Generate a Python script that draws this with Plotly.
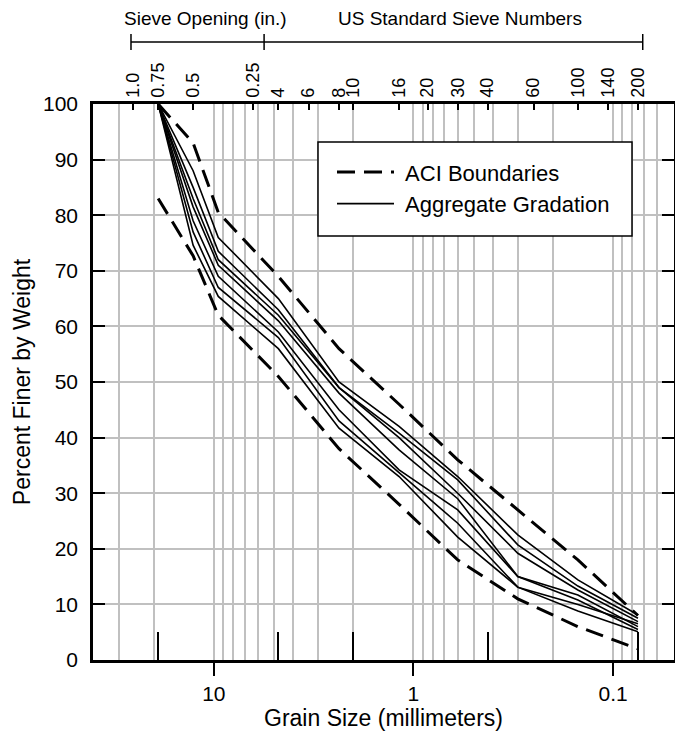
import numpy as np
import plotly.graph_objects as go

# sieve sizes (mm) used for the gradation curves
sieve_mm = [19.0, 12.7, 9.5, 4.75, 2.36, 1.18, 0.6, 0.3, 0.15, 0.075]

# ACI boundaries (percent finer)
aci_upper = [100, 93, 80.5, 69, 56, 46, 36, 27, 18, 8]
aci_lower = [83, 72.7, 62, 51, 38, 28, 18, 11, 6, 2]

# aggregate gradations (percent finer)
gradations = [
    [100, 88, 76, 65, 50, 42, 33, 22.5, 14.4, 8.1],
    [100, 85, 73.5, 63, 49, 40.8, 32.4, 20.7, 13.3, 7.5],
    [100, 83, 72, 62, 49, 40, 30, 19.2, 12.6, 6.9],
    [100, 81.5, 71, 61, 48, 37.8, 29, 15, 11.7, 6],
    [100, 79, 69, 59, 45, 34.2, 27, 15, 10.8, 5.5],
    [100, 77, 67, 58, 43, 33.6, 24.6, 13.1, 8.8, 5.1],
    [100, 74.6, 65.4, 56, 41.7, 33, 22.1, 13.1, 10, 6.5],
]

# top axis: sieve designations
top_mm = [25.4, 19.05, 12.7, 6.35, 4.75, 3.35, 2.36, 2.0, 1.18, 0.85,
          0.6, 0.425, 0.25, 0.15, 0.106, 0.075]
top_labels = ['1.0', '0.75', '0.5', '0.25', '4', '6', '8', '10', '16', '20',
              '30', '40', '60', '100', '140', '200']

# long inside ticks on the bottom axis
mark_mm = [19.05, 4.75, 2.0, 0.425, 0.075]

grid_minor = [30, 20, 9, 8, 7, 6, 5, 4, 3, 2,
              0.9, 0.8, 0.7, 0.6, 0.5, 0.4, 0.3, 0.2,
              0.09, 0.08, 0.07, 0.06]

FONT = 'Arial, Liberation Sans, sans-serif'
GRID = '#c0c0c0'
xrange = [np.log10(40.3), np.log10(0.0495)]

fig = go.Figure()

fig.add_trace(go.Scatter(x=sieve_mm, y=aci_upper, mode='lines', name='\u00a0ACI Boundaries',
                         line=dict(color='black', width=3, dash='18px,9px'),
                         legendgroup='aci'))
fig.add_trace(go.Scatter(x=sieve_mm, y=aci_lower, mode='lines', name='\u00a0ACI Boundaries',
                         line=dict(color='black', width=3, dash='18px,9px'),
                         legendgroup='aci', showlegend=False))
for i, g in enumerate(gradations):
    fig.add_trace(go.Scatter(x=sieve_mm, y=g, mode='lines', name='\u00a0Aggregate Gradation',
                             line=dict(color='black', width=1.6),
                             legendgroup='grad', showlegend=(i == 0)))

# dummy traces so the overlay axes exist
fig.add_trace(go.Scatter(x=[], y=[], xaxis='x2', showlegend=False))
fig.add_trace(go.Scatter(x=[], y=[], xaxis='x3', showlegend=False))

# the page body adds an 8px margin, so the figure is 8px smaller each way
fig.update_layout(
    width=675, height=731,
    margin=dict(l=85, r=9, t=96, b=79),
    paper_bgcolor='white', plot_bgcolor='white',
    font=dict(family=FONT, color='black', size=18),
    xaxis=dict(
        type='log', range=xrange, automargin=False,
        tickvals=[10, 1, 0.1], ticktext=['10', '1', '0.1'],
        ticks='outside', ticklen=13, tickwidth=2, tickcolor='black',
        showgrid=True, gridcolor=GRID, gridwidth=2,
        minor=dict(tickvals=grid_minor, showgrid=True, gridcolor=GRID, gridwidth=2, ticks=''),
        showline=True, linecolor='black', linewidth=2.5,
        zeroline=False,
        title=dict(text='Grain Size (millimeters)', font=dict(size=23), standoff=4),
        tickfont=dict(size=21),
    ),
    xaxis2=dict(
        type='log', range=xrange, overlaying='x', side='top', anchor='y', automargin=False,
        tickvals=top_mm, ticktext=top_labels, tickangle=-90,
        ticks='inside', ticklen=6, tickwidth=2, tickcolor='black',
        showgrid=False, showline=True, linecolor='black', linewidth=2.5,
        tickfont=dict(size=18), zeroline=False,
    ),
    xaxis3=dict(
        type='log', range=xrange, overlaying='x', side='bottom', anchor='y', automargin=False,
        tickvals=mark_mm, showticklabels=False,
        ticks='inside', ticklen=28, tickwidth=2, tickcolor='black',
        showgrid=False, showline=False, zeroline=False,
    ),
    yaxis=dict(
        range=[0, 100], tickvals=list(range(0, 101, 10)), automargin=False,
        ticks='inside', ticklen=12, tickwidth=2, tickcolor='black',
        showgrid=True, gridcolor=GRID, gridwidth=2,
        showline=True, linecolor='black', linewidth=2.5, mirror='ticks',
        zeroline=False, ticklabelstandoff=8,
        title=dict(text='Percent Finer by Weight', font=dict(size=23), standoff=6),
        tickfont=dict(size=21),
    ),
    legend=dict(
        x=(332 - 93) / 581, y=0.915, xanchor='left', yanchor='top',
        bgcolor='rgba(0,0,0,0)', borderwidth=0,
        font=dict(size=22), itemwidth=57, tracegroupgap=0,
    ),
    showlegend=True,
)

# legend frame
fig.add_shape(type='rect', xref='paper', yref='paper',
              x0=(318 - 93) / 581, x1=(632 - 93) / 581,
              y0=(660 - 236) / 556, y1=(660 - 142) / 556,
              line=dict(color='black', width=1.5), fillcolor='white', layer='above')

# brackets above the top axis
yb = (660 - 42) / 556
cap = 8 / 556
fig.add_shape(type='line', xref='x', yref='paper', x0=26.0, x1=0.071, y0=yb, y1=yb,
              line=dict(color='black', width=1.5))
for xc in [26.0, 5.6, 0.071]:
    fig.add_shape(type='line', xref='x', yref='paper', x0=xc, x1=xc, y0=yb - cap, y1=yb + cap,
                  line=dict(color='black', width=1.5))

fig.add_annotation(text='Sieve Opening (in.)', xref='paper', yref='paper',
                   x=(205 - 93) / 581, y=(660 - 18) / 556, showarrow=False,
                   font=dict(size=19), xanchor='center', yanchor='middle')
fig.add_annotation(text='US Standard Sieve Numbers', xref='paper', yref='paper',
                   x=(460 - 93) / 581, y=(660 - 18) / 556, showarrow=False,
                   font=dict(size=19), xanchor='center', yanchor='middle')

fig.write_html("out.html")
